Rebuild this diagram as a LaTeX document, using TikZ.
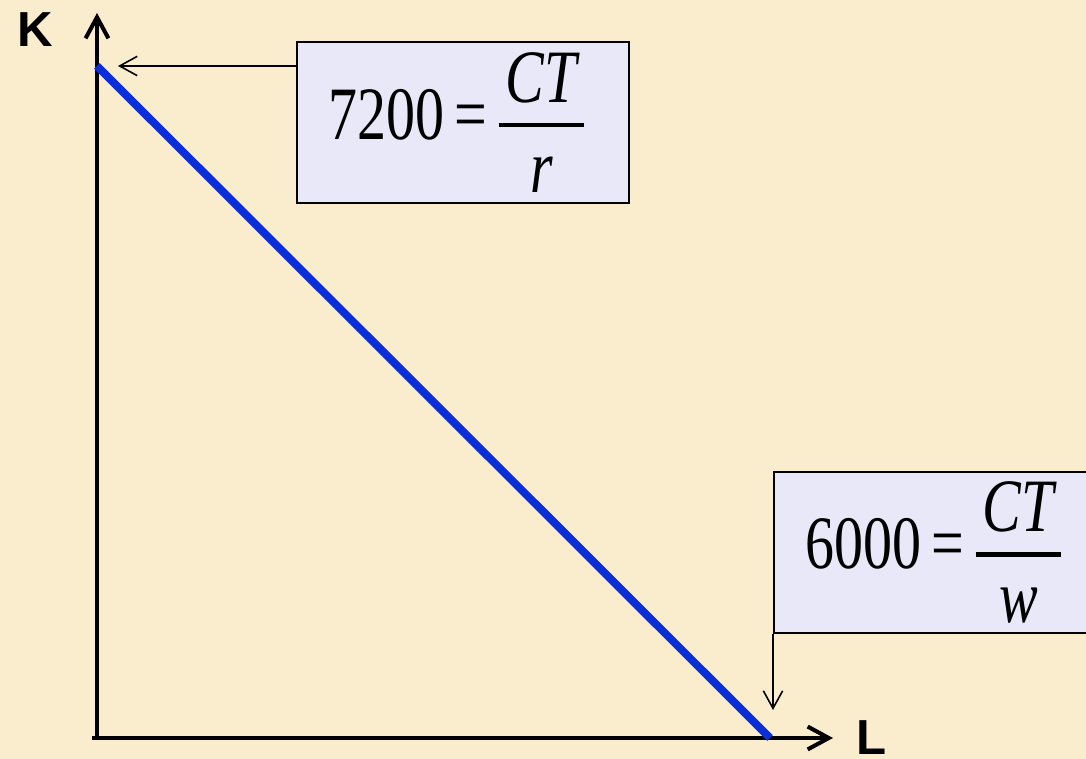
\documentclass[tikz,border=0pt]{standalone}
\usepackage{fontspec}
\setmainfont{Liberation Serif}
\newfontfamily\axisfont{Liberation Sans}
\usepackage{graphicx}
\usepackage{xcolor}
\usepackage{tikz}
\usetikzlibrary{positioning,arrows.meta}
\definecolor{paper}{HTML}{FAEDCE}
\definecolor{lavender}{HTML}{E8E8F8}
\definecolor{budget}{HTML}{0A2FD8}
\tikzset{
  axis/.style={draw=black,line width=2.3pt,-{Straight Barb[length=12pt,width=13pt]}},
  conn/.style={draw=black,line width=0.9pt,-{Straight Barb[length=10pt,width=11pt]}},
  eqbox/.style={draw=black,line width=1.1pt,fill=lavender,minimum width=6.64cm,
                minimum height=3.22cm,inner sep=0pt,align=center},
  axlabel/.style={inner sep=0pt,font=\axisfont\bfseries\fontsize{28}{30}\selectfont}
}
\newcommand\eqtext[2]{{\fontsize{33}{40}\selectfont\scalebox{1}[1.3]{#1\,=\,$\textstyle{\,\textit{CT}\,\rule[-7.3pt]{0pt}{0pt}}\above1.8pt{\rule{0pt}{27pt}\textit{#2}}$}\hspace{0.22cm}}}

\begin{document}
\begin{tikzpicture}[x=0.02cm,y=-0.02cm]
  \clip (0,0) rectangle (1086,759);
  \fill[paper] (0,0) rectangle (1086,759);
  % axes
  \coordinate (O) at (97,738);
  \coordinate (ytop) at (97,13);
  \coordinate (xend) at (833,738);
  \draw[axis] (97,740) -- (ytop);
  \draw[axis] (92,738) -- (xend);
  \node[axlabel] (K) at (35,30) {K};
  \node[axlabel] (L) at (872,738) {L};
  % budget line
  \coordinate (kint) at (97,66);
  \coordinate (lint) at (770,738);
  \draw[budget,line width=4.5pt] (kint) -- (lint);
  % equation boxes
  \node[eqbox,anchor=north west] (b1) at (296,41) {\eqtext{7200}{r}};
  \node[eqbox,anchor=north west] (b2) at (773,471) {\eqtext{6000}{w}};
  \coordinate (ktip) at (118,66);
  \coordinate (ltip) at (773,710);
  \draw[conn] (b1.west |- ktip) -- (ktip);
  \draw[conn] (b2.south west) -- (ltip);
\end{tikzpicture}
\end{document}
